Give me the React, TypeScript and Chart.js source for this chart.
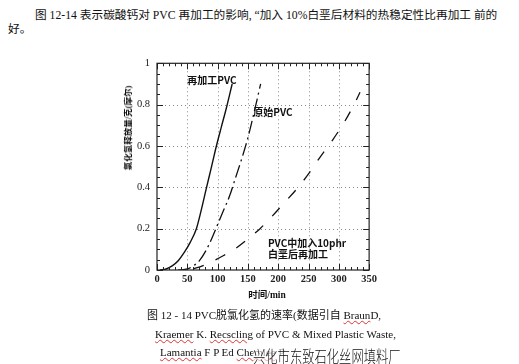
import React, { useEffect, useRef } from "react";
import { Chart, registerables } from "chart.js";

Chart.register(...registerables);

// Data (time in min, HCl released)
const REPROCESSED_T = [5, 15, 25, 35, 45, 55, 65, 73, 81, 90, 98, 106, 115, 124];
const REPROCESSED_HCL = [0, 0.005, 0.02, 0.045, 0.085, 0.135, 0.2, 0.29, 0.39, 0.5, 0.6, 0.69, 0.79, 0.9];

const VIRGIN_T = [35, 50, 60, 70, 80, 90, 100, 110, 120, 130, 140, 150, 160, 171];
const VIRGIN_HCL = [0, 0.005, 0.02, 0.045, 0.09, 0.15, 0.22, 0.29, 0.36, 0.45, 0.54, 0.64, 0.76, 0.9];

const CHALK_T = [60, 75, 90, 110, 130, 150, 170, 190, 210, 230, 250, 270, 290, 310, 325, 335];
const CHALK_HCL = [0.005, 0.02, 0.04, 0.07, 0.105, 0.15, 0.2, 0.26, 0.325, 0.39, 0.465, 0.55, 0.63, 0.72, 0.8, 0.86];

const X_TICKS = [0, 50, 100, 150, 200, 250, 300, 350];
const Y_TICKS = [0, 0.2, 0.4, 0.6, 0.8, 1];

const LABEL_REPROCESSED = "再加工PVC";
const LABEL_VIRGIN = "原始PVC";
const LABEL_CHALK_1 = "PVC中加入10phr";
const LABEL_CHALK_2 = "白垩后再加工";

const pts = (xs: number[], ys: number[]) => xs.map((x, i) => ({ x, y: ys[i] }));

const framePlugin = {
  id: "frame",
  beforeDatasetsDraw(chart: any) {
    const { ctx, chartArea, scales } = chart;
    const { left, right, top, bottom } = chartArea;
    const x = scales.x, y = scales.y;
    ctx.save();
    ctx.strokeStyle = "#888";
    ctx.lineWidth = 1;
    ctx.setLineDash([1, 3]);
    X_TICKS.slice(1, -1).forEach((v) => {
      const px = Math.round(x.getPixelForValue(v)) + 0.5;
      ctx.beginPath();
      ctx.moveTo(px, top);
      ctx.lineTo(px, bottom);
      ctx.stroke();
    });
    Y_TICKS.slice(1, -1).forEach((v) => {
      const py = Math.round(y.getPixelForValue(v)) + 0.5;
      ctx.beginPath();
      ctx.moveTo(left, py);
      ctx.lineTo(right, py);
      ctx.stroke();
    });
    ctx.restore();
  },
  afterDraw(chart: any) {
    const { ctx, chartArea, scales } = chart;
    const { left, right, top, bottom } = chartArea;
    const x = scales.x, y = scales.y;
    ctx.save();
    ctx.setLineDash([]);
    ctx.strokeStyle = "#222";
    ctx.lineWidth = 1.2;
    ctx.strokeRect(left, top, right - left, bottom - top);
    ctx.lineWidth = 1;
    for (let v = 0; v <= 350; v += 10) {
      const len = v % 50 === 0 ? 6 : 3;
      const px = Math.round(x.getPixelForValue(v)) + 0.5;
      ctx.beginPath();
      ctx.moveTo(px, bottom);
      ctx.lineTo(px, bottom - len);
      ctx.moveTo(px, top);
      ctx.lineTo(px, top + len);
      ctx.stroke();
    }
    for (let i = 0; i <= 20; i++) {
      const v = i * 0.05;
      const len = i % 4 === 0 ? 6 : 3;
      const py = Math.round(y.getPixelForValue(v)) + 0.5;
      ctx.beginPath();
      ctx.moveTo(left, py);
      ctx.lineTo(left + len, py);
      ctx.moveTo(right, py);
      ctx.lineTo(right - len, py);
      ctx.stroke();
    }
    ctx.fillStyle = "#111";
    ctx.font = "bold 10px 'Noto Sans CJK SC', 'Liberation Serif'";
    ctx.textBaseline = "middle";
    ctx.textAlign = "left";
    ctx.fillText(LABEL_REPROCESSED, x.getPixelForValue(50), y.getPixelForValue(0.918));
    ctx.fillText(LABEL_VIRGIN, x.getPixelForValue(159), y.getPixelForValue(0.762));
    ctx.fillText(LABEL_CHALK_1, x.getPixelForValue(183), y.getPixelForValue(0.13));
    ctx.fillText(LABEL_CHALK_2, x.getPixelForValue(183), y.getPixelForValue(0.075));
    ctx.restore();
  },
};

function ChartCanvas() {
  const ref = useRef<HTMLCanvasElement | null>(null);
  useEffect(() => {
    if (!ref.current) return;
    const line = { borderColor: "#111", pointRadius: 0, fill: false, cubicInterpolationMode: "monotone" as const };
    const chart = new Chart(ref.current, {
      type: "line",
      data: {
        datasets: [
          { ...line, label: LABEL_REPROCESSED, data: pts(REPROCESSED_T, REPROCESSED_HCL), borderWidth: 1.4 },
          { ...line, label: LABEL_VIRGIN, data: pts(VIRGIN_T, VIRGIN_HCL), borderWidth: 1.3, borderDash: [13, 4, 2, 4] },
          { ...line, label: LABEL_CHALK_1 + LABEL_CHALK_2, data: pts(CHALK_T, CHALK_HCL), borderWidth: 1.3, borderDash: [11, 13] },
        ],
      },
      options: {
        animation: false,
        responsive: false,
        maintainAspectRatio: false,
        layout: { padding: { top: 7, right: 6, left: 0, bottom: 0 } },
        plugins: { legend: { display: false }, tooltip: { enabled: false } },
        scales: {
          x: {
            type: "linear",
            min: 0,
            max: 350,
            grid: { display: false, drawTicks: false },
            border: { display: false },
            afterBuildTicks: (s: any) => { s.ticks = X_TICKS.map((v) => ({ value: v })); },
            afterFit: (s: any) => { s.height = 20; },
            ticks: {
              padding: 3,
              color: "#222",
              font: { family: "'Liberation Serif'", size: 10.5, weight: "bold" },
              callback: (v: any) => String(v),
            },
          },
          y: {
            type: "linear",
            min: 0,
            max: 1,
            grid: { display: false, drawTicks: false },
            border: { display: false },
            afterBuildTicks: (s: any) => { s.ticks = Y_TICKS.map((v) => ({ value: v })); },
            afterFit: (s: any) => { s.width = 57; },
            ticks: {
              padding: 7,
              color: "#222",
              font: { family: "'Liberation Serif'", size: 10.5 },
              callback: (v: any) => (v === 0 ? "0" : v === 1 ? "1" : Number(v).toFixed(1)),
            },
          },
        },
      },
      plugins: [framePlugin],
    });
    return () => chart.destroy();
  }, []);
  return (
    <canvas
      ref={ref}
      width={280}
      height={240}
      style={{ position: "absolute", left: 100, top: 50, width: 280, height: 240 }}
    />
  );
}

const serif = "'Liberation Serif', 'Noto Sans CJK SC', serif";
const cjk = "'Liberation Serif', 'Noto Sans CJK SC', sans-serif";
const squiggle: React.CSSProperties = { textDecoration: "underline wavy #d33", textDecorationThickness: 1 };

export default function App() {
  return (
    <div style={{ position: "fixed", left: 0, top: 0, width: 519, height: 364, background: "#fff", overflow: "hidden", color: "#111" }}>
      <div style={{ position: "absolute", left: 35, top: 7, fontFamily: cjk, fontSize: 11.7, whiteSpace: "nowrap", lineHeight: "18px" }}>
        图 12-14 表示碳酸钙对 PVC 再加工的影响, “加入 10%白垩后材料的热稳定性比再加工 前的
      </div>
      <div style={{ position: "absolute", left: 8, top: 21, fontFamily: cjk, fontSize: 11.7, whiteSpace: "nowrap", lineHeight: "18px" }}>
        好。
      </div>
      <ChartCanvas />
      <div
        style={{
          position: "absolute",
          left: 128,
          top: 128,
          transform: "translate(-50%, -50%) rotate(-90deg)",
          fontFamily: cjk,
          fontSize: 8.5,
          fontWeight: "bold",
          whiteSpace: "nowrap",
          lineHeight: "10px",
        }}
      >
        氯化氢释放量/克(摩尔)
      </div>
      <div
        style={{
          position: "absolute",
          left: 267,
          top: 294,
          transform: "translate(-50%, -50%)",
          fontFamily: cjk,
          fontSize: 9.5,
          fontWeight: "bold",
          whiteSpace: "nowrap",
        }}
      >
        时间/min
      </div>
      <div style={{ position: "absolute", left: 147, top: 307, fontFamily: serif, fontSize: 11, whiteSpace: "nowrap", lineHeight: "16px" }}>
        图 12 - 14 PVC脱氯化氢的速率(数据引自 <span style={squiggle}>Braun</span>D,
      </div>
      <div style={{ position: "absolute", left: 155, top: 326, fontFamily: serif, fontSize: 11, whiteSpace: "nowrap", lineHeight: "16px" }}>
        <span style={squiggle}>Kraemer</span> K. <span style={squiggle}>Recscling</span> of PVC &amp; Mixed Plastic Waste,
      </div>
      <div style={{ position: "absolute", left: 160, top: 344, fontFamily: serif, fontSize: 11, whiteSpace: "nowrap", lineHeight: "16px" }}>
        <span style={squiggle}>Lamantia</span> F P Ed <span style={squiggle}>Chemlee</span> P.
      </div>
      <div
        style={{
          position: "absolute",
          left: 253,
          top: 343,
          fontFamily: "'Noto Sans CJK SC', sans-serif",
          fontSize: 12.3,
          fontWeight: 300,
          whiteSpace: "nowrap",
          lineHeight: "18px",
          transform: "scaleY(1.4)",
          transformOrigin: "left top",
          background: "rgba(255,255,255,0.6)",
        }}
      >
        兴化市东致石化丝网填料厂
      </div>
    </div>
  );
}
